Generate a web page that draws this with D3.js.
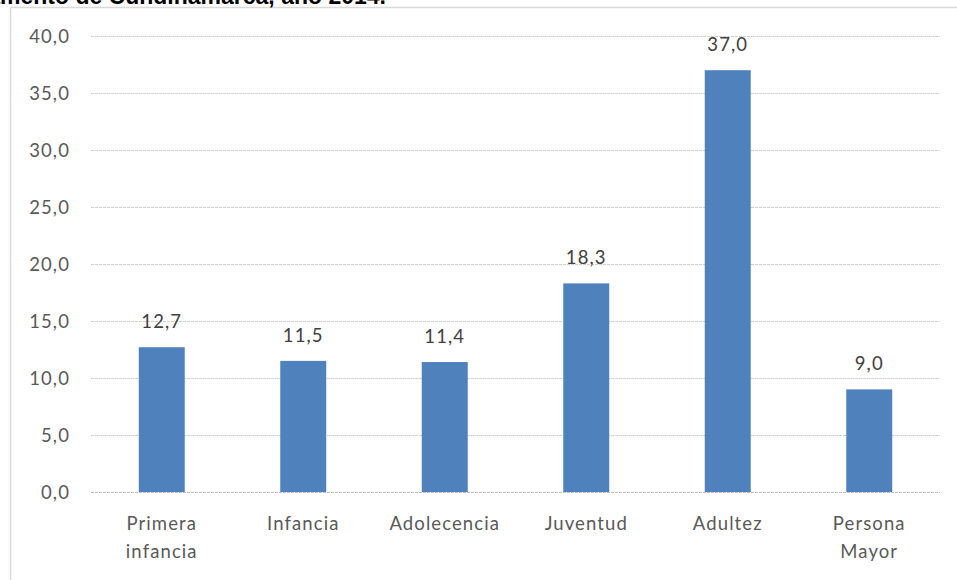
<!DOCTYPE html>
<html><head><meta charset="utf-8">
<script src="https://cdn.jsdelivr.net/npm/d3@7"></script>
<style>body{margin:0;background:#fff;overflow:hidden}</style>
</head><body>
<svg id="c" width="957" height="580"></svg>
<script>
const categories = [["Primera","infancia"],["Infancia"],["Adolecencia"],["Juventud"],["Adultez"],["Persona","Mayor"]];
const values = [12.7, 11.5, 11.4, 18.3, 37.0, 9.0];
const yTicks = [0,5,10,15,20,25,30,35,40];
const titleText = "Departamento de Cundinamarca, año 2014.";

const svg = d3.select("#c");
const fmt = v => d3.format(".1f")(v).replace(".", ",");
const font = "Lato, 'Open Sans', sans-serif";
const fs = 18.5, ls = "1.1px";

// frame
svg.append("rect").attr("x",10.5).attr("y",7.5).attr("width",950).attr("height",580)
  .attr("fill","#fff").attr("stroke","#d9d9d9").attr("stroke-width",1.5);

// clipped title (cut off at top edge as in the reference)
svg.append("text").attr("x",386).attr("y",4).attr("text-anchor","end")
  .attr("font-family","Arial, 'Liberation Sans', sans-serif").attr("font-weight","bold")
  .attr("font-size",23).attr("fill","#000").text(titleText);

const x = d3.scaleBand().domain(d3.range(categories.length)).range([91,940]).paddingInner(0.675).paddingOuter(0.3375);
const y = d3.scaleLinear().domain([0,40]).range([492,36]);

// grid
svg.append("g").selectAll("line").data(yTicks).join("line")
  .attr("x1",91).attr("x2",940).attr("y1",d=>Math.round(y(d))+0.5).attr("y2",d=>Math.round(y(d))+0.5)
  .attr("stroke",d=>d===0?"#bfbfbf":"#cfcfcf").attr("stroke-width",1)
  .attr("stroke-dasharray","3,1");

// y labels
svg.append("g").selectAll("text").data(yTicks).join("text")
  .attr("x",70).attr("y",d=>y(d)+7).attr("text-anchor","end")
  .attr("font-family",font).attr("font-size",fs).attr("letter-spacing",ls).attr("fill","#595959").text(d=>fmt(d));

// bars
svg.append("g").selectAll("rect").data(values).join("rect")
  .attr("x",(d,i)=>x(i)).attr("width",x.bandwidth())
  .attr("y",d=>y(d)).attr("height",d=>y(0)-y(d)).attr("fill","#4f81bd");

// data labels
svg.append("g").selectAll("text").data(values).join("text")
  .attr("x",(d,i)=>x(i)+x.bandwidth()/2).attr("y",d=>y(d)-19).attr("text-anchor","middle")
  .attr("font-family",font).attr("font-size",fs).attr("letter-spacing",ls).attr("fill","#404040").text(d=>fmt(d));

// category labels
const cg = svg.append("g").selectAll("text").data(categories).join("text")
  .attr("text-anchor","middle").attr("font-family",font).attr("font-size",fs).attr("letter-spacing",ls).attr("fill","#595959");
cg.each(function(lines,i){
  const t = d3.select(this);
  lines.forEach((l,j)=>t.append("tspan").attr("x",x(i)+x.bandwidth()/2).attr("y",530+j*28).text(l));
});
</script>
</body></html>
